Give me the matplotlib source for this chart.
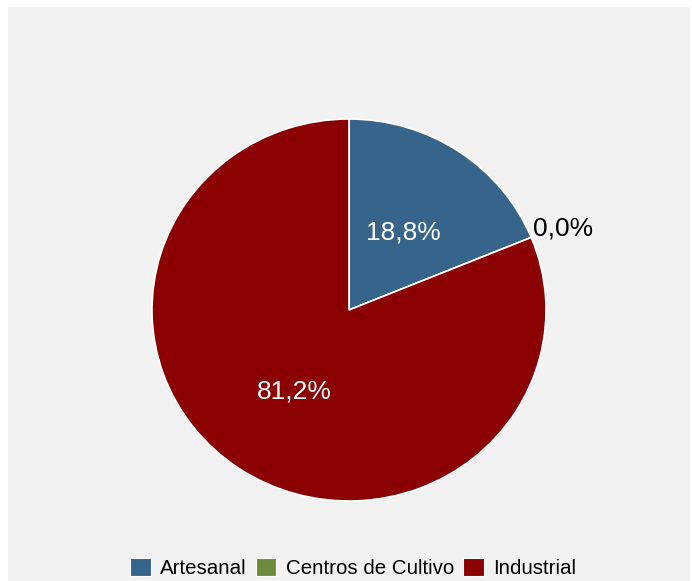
import matplotlib
matplotlib.use("Agg")
import matplotlib.pyplot as plt
from matplotlib.patches import Rectangle
import numpy as np

plt.rcParams['font.family'] = ['Liberation Sans', 'DejaVu Sans']

categories = ["Artesanal", "Centros de Cultivo", "Industrial"]
values = [18.8, 0.0, 81.2]
labels_txt = ["18,8%", "0,0%", "81,2%"]
colors = ["#36648B", "#6E8B3D", "#8B0000"]

W, H = 692, 581
fig = plt.figure(figsize=(W/100, H/100), dpi=100)
fig.patch.set_facecolor("white")
fig.patches.append(Rectangle((8/W, 0), (690-8)/W, (581-7)/H, transform=fig.transFigure,
                             facecolor="#F2F2F2", edgecolor="none", zorder=-10))

cx, cy, rx, ry = 349, 310, 197, 191
ax = fig.add_axes([(cx-rx)/W, (H-cy-ry)/H, 2*rx/W, 2*ry/H])
ax.set_facecolor("none")
wedges, _ = ax.pie(values, colors=colors, startangle=90, counterclock=False,
                   wedgeprops=dict(edgecolor="white", linewidth=1.2))
ax.set_aspect("auto")
ax.set_xlim(-1, 1)
ax.set_ylim(-1, 1)
ax.axis("off")

for w, lab, v in zip(wedges, labels_txt, values):
    ang = np.deg2rad((w.theta1 + w.theta2) / 2)
    if v > 0:
        d = 0.5
        ax.text(d*np.cos(ang), d*np.sin(ang) - 0.012, lab, color="white", fontsize=19,
                ha="center", va="center")
    else:
        d = 1.175
        ax.text(d*np.cos(ang), d*np.sin(ang) - 0.02, lab, color="black", fontsize=19,
                ha="center", va="center")

handles = [Rectangle((0, 0), 1, 1, facecolor=c, edgecolor="white", linewidth=0.8) for c in colors]
fig.legend(handles, categories, loc="center", bbox_to_anchor=(353/W, 13/H), ncol=3,
           frameon=False, fontsize=14.8, handlelength=1.0, handleheight=1.0,
           handletextpad=0.45, columnspacing=0.45, borderaxespad=0)

fig.savefig("out.png", dpi=100, facecolor=fig.get_facecolor())
